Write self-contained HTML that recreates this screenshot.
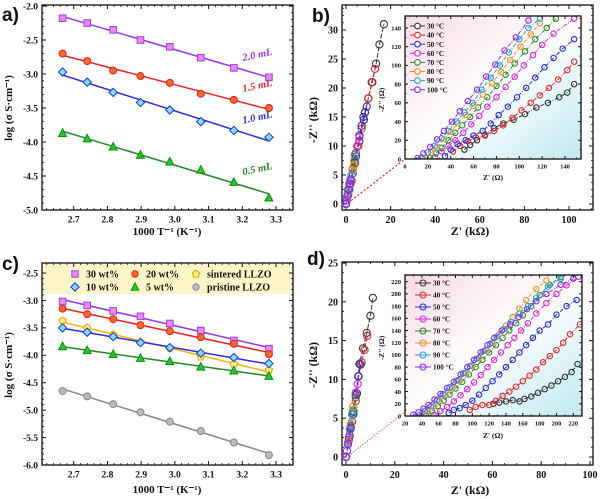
<!DOCTYPE html>
<html><head><meta charset="utf-8"><style>
html,body{margin:0;padding:0;background:#fff;}
svg{display:block;font-family:"Liberation Serif",serif;font-weight:bold;}
</style></head><body>
<svg id="fig" width="600" height="499" viewBox="0 0 600 499">
<defs>
<linearGradient id="ig" x1="0" y1="0" x2="1" y2="1">
<stop offset="0" stop-color="#f6dbe6"/><stop offset="0.5" stop-color="#ffffff"/><stop offset="1" stop-color="#bfeaf0"/>
</linearGradient>
</defs>
</svg>
<script>
// ---------- data ----------
const xT = [2.667, 2.740, 2.817, 2.898, 2.985, 3.077, 3.175, 3.279];
const aLabels = ["2.0 mL","1.5 mL","1.0 mL","0.5 mL"];
const a20 = [-2.18,-2.25,-2.35,-2.50,-2.60,-2.76,-2.91,-3.05];
const a15 = [-2.70,-2.81,-2.95,-3.03,-3.13,-3.29,-3.38,-3.50];
const a10 = [-2.97,-3.12,-3.27,-3.42,-3.53,-3.70,-3.83,-3.93];
const a05 = [-3.87,-3.95,-4.07,-4.19,-4.29,-4.41,-4.59,-4.82];
const cLabels = ["30 wt%","20 wt%","sintered LLZO","10 wt%","5 wt%","pristine LLZO"];
const c30 = [-3.02,-3.09,-3.19,-3.29,-3.42,-3.55,-3.73,-3.88];
const c20 = [-3.15,-3.25,-3.34,-3.45,-3.56,-3.67,-3.79,-3.98];
const cSint = [-3.37,-3.50,-3.62,-3.76,-3.87,-4.03,-4.16,-4.27];
const c10 = [-3.50,-3.58,-3.66,-3.77,-3.86,-3.96,-4.04,-4.15];
const c05 = [-3.84,-3.91,-3.98,-4.05,-4.11,-4.21,-4.28,-4.38];
const cPri = [-4.65,-4.75,-4.89,-5.04,-5.21,-5.38,-5.59,-5.82];
const tempLabels = ["30 °C","40 °C","50 °C","60 °C","70 °C","80 °C","90 °C","100 °C"];
const tempColors = ["#333333","#e8262a","#2a2ad8","#e020e0","#2a8a2a","#f39020","#20a0e8","#8a2be8"];
// panel b main (kΩ)
const bMain = [
 [[0,0],[2,3.5],[4,7.2],[6,10.8],[8,14.5],[10,18.2],[11.8,21],[13.5,24.2],[15,27.5],[17,31]],
 [[0,0],[1,1.5],[2.5,4],[4,7],[5.5,10],[7,13],[8.5,15.8],[10,18.2],[11.5,21],[13,23.3]],
 [[0,0],[1.5,2.5],[3,5.3],[4.5,8.2],[6,11.8],[7,13.5],[7.8,15],[8.5,15.8],[9.3,16.8]],
 [[0,0],[1,2],[2,4],[3,6],[4,8.5],[5,10],[6,11.5]],
 [[0,0],[1,2],[2,4.2],[3,6],[3.8,7.5],[4.5,8.8]],
 [[0,0],[1,2],[2,4.2],[3,5.8],[3.5,6.6]],
 [[0,0],[0.8,1.8],[1.6,3.4],[2.5,5]],
 [[0,0],[0.3,0.6],[0.6,1.3],[1,2.5],[1.5,3.5],[2,4.2]]
];
// panel b inset (Ω)
const bInset = [
 [[52,10],[57,15],[63,20],[70,26],[78,33],[86,38],[95,42],[105,48],[115,55],[125,60],[135,66],[142,71],[148,80]],
 [[42,8],[48,14],[55,19],[62,23],[70,25],[78,30],[86,36],[94,44],[102,52],[110,60],[118,68],[126,76],[134,85],[142,95],[148,104]],
 [[35,3],[40,10],[46,16],[53,20],[60,25],[68,30],[75,38],[82,47],[90,56],[98,66],[106,76],[114,87],[122,98],[130,108],[138,118],[148,128]],
 [[26,2],[32,8],[38,14],[44,20],[51,28],[58,37],[65,46],[72,56],[80,66],[88,77],[96,88],[104,100],[112,111],[120,122],[130,134],[148,150]],
 [[22,1],[27,6],[32,12],[38,20],[44,28],[50,36],[57,45],[64,55],[72,66],[80,78],[88,90],[96,102],[105,115],[114,128],[124,140],[132,150]],
 [[18,1],[23,7],[28,13],[34,21],[40,29],[46,38],[53,47],[60,57],[68,69],[76,81],[84,93],[92,106],[101,120],[110,133],[118,145]],
 [[15,1],[20,7],[26,14],[32,22],[38,30],[45,40],[52,50],[59,60],[67,74],[75,87],[83,100],[91,114],[100,128],[108,140],[118,150]],
 [[11,1],[16,6],[22,13],[28,21],[34,30],[41,40],[48,51],[55,62],[63,74],[71,88],[79,101],[87,116],[97,130],[108,148]]
];
// panel d main (kΩ)
const dMain = [
 [[0,0],[1.5,2.8],[3,5.5],[4.5,8.2],[5.5,12],[7,14],[8.5,16],[10,18.2],[11,20.5]],
 [[0,0],[1.2,2.2],[2.5,4.5],[4,7.2],[5.2,10.4],[6.4,12.2],[7.6,13.8],[8.7,15.6]],
 [[0,0],[1,2],[2,3.8],[3,5.8],[4,8],[5,10.4],[6,11.9]],
 [[0,0],[1,2],[2,4],[3,6.5],[4,8.3],[4.8,9.4]],
 [[0,0],[1,2],[2,4],[3,6],[4,7.7]],
 [[0,0],[1,2],[2,4.2],[3,6.5]],
 [[0,0],[0.8,1.8],[1.6,3.5],[2.5,5.5]],
 [[0,0],[0.4,0.8],[0.8,1.6],[1.2,2.5],[1.8,3.6]]
];
// panel d inset (Ω)
const dInset = [
 [[125,20],[132,22],[140,24],[148,26],[156,24],[162,28],[170,32],[178,38],[186,44],[194,50],[202,57],[210,64],[218,72],[225,85]],
 [[97,10],[104,15],[112,18],[120,18],[128,25],[136,33],[144,40],[152,48],[160,57],[168,66],[176,76],[184,88],[192,98],[200,108],[208,120],[216,134],[228,150]],
 [[72,5],[78,10],[85,13],[92,18],[100,25],[108,35],[116,46],[124,57],[132,68],[140,80],[148,92],[156,104],[164,116],[172,128],[180,140],[190,150],[200,166],[212,180],[224,190]],
 [[55,2],[62,8],[70,15],[78,24],[86,34],[94,44],[102,55],[110,67],[118,80],[126,92],[134,104],[142,116],[150,128],[158,140],[166,152],[176,168],[188,185],[200,200],[212,214],[226,228]],
 [[45,1],[52,8],[59,16],[66,25],[73,35],[80,45],[88,56],[96,68],[104,80],[112,92],[120,104],[128,116],[136,128],[144,140],[152,152],[160,165],[170,180],[180,198],[192,215],[205,228]],
 [[40,1],[47,8],[54,16],[61,25],[68,35],[76,46],[84,58],[92,70],[100,82],[108,95],[116,108],[124,120],[132,134],[140,148],[148,162],[156,176],[164,190],[176,208],[188,222]],
 [[37,1],[44,8],[51,16],[58,26],[65,36],[73,47],[81,58],[89,70],[97,82],[105,94],[113,106],[121,118],[129,130],[137,142],[146,154],[156,168],[166,180],[176,194],[190,212],[205,225]],
 [[30,2],[36,6],[42,12],[48,18],[55,27],[62,36],[70,46],[78,56],[86,68],[94,80],[102,92],[110,104],[118,116],[126,128],[135,140],[145,150],[155,162],[165,175],[176,188],[188,200],[205,215],[220,225]]
];
const aTicksX = [2.6,2.7,2.8,2.9,3.0,3.1,3.2,3.3];
const aTicksY = [-2.0,-2.5,-3.0,-3.5,-4.0,-4.5,-5.0];
const cTicksY = [-2.5,-3.0,-3.5,-4.0,-4.5,-5.0,-5.5,-6.0];
const bTicksX = [0,20,40,60,80,100];
const bTicksY = [0,5,10,15,20,25,30];
const dTicksY = [0,5,10,15,20,25];
const biTicks = [0,20,40,60,80,100,120,140];
const diTicksX = [20,40,60,80,100,120,140,160,180,200,220];
const diTicksY = [0,20,40,60,80,100,120,140,160,180,200,220];

// ---------- helpers ----------
const NS="http://www.w3.org/2000/svg";
const svg=document.getElementById('fig');
function mk(tag,attrs,parent){const e=document.createElementNS(NS,tag);for(const k in attrs)e.setAttribute(k,attrs[k]);(parent||svg).appendChild(e);return e;}
function txt(s,x,y,size,anchor,parent,extra){const t=mk('text',Object.assign({x:x,y:y,'font-size':size,'text-anchor':anchor||'middle',fill:'#111'},extra||{}),parent);t.textContent=s;return t;}
function scale(d0,d1,p0,p1){return v=>p0+(v-d0)*(p1-p0)/(d1-d0);}
function axes(name,f,X,Y,xt,yt,xfmt,yfmt,fs,tl,nminor,noYlabelsTop){
  const g=mk('g',{});
  
  
  mk('rect',{x:f.x0,y:f.y0,width:f.x1-f.x0,height:f.y1-f.y0,fill:'none',stroke:'#111','stroke-width':1.3},g);
  const step=xt[1]-xt[0], ys=yt[1]-yt[0];
  for(let i=0;i<xt.length;i++){
    const px=X(xt[i]);
    if(px>=f.x0-0.5&&px<=f.x1+0.5){
      mk('line',{x1:px,x2:px,y1:f.y1,y2:f.y1-tl,stroke:'#111','stroke-width':1},g);
      mk('line',{x1:px,x2:px,y1:f.y0,y2:f.y0+tl,stroke:'#111','stroke-width':1},g);
      txt(xfmt(xt[i]),px,f.y1+fs+3,fs,'middle',g);
    }
    for(let k=1;k<nminor;k++){const m=X(xt[i]+step*k/nminor);if(m>f.x0&&m<f.x1){mk('line',{x1:m,x2:m,y1:f.y1,y2:f.y1-tl/2,stroke:'#111','stroke-width':0.8},g);mk('line',{x1:m,x2:m,y1:f.y0,y2:f.y0+tl/2,stroke:'#111','stroke-width':0.8},g);}}
  }
  for(let i=0;i<yt.length;i++){
    const py=Y(yt[i]);
    if(py>=f.y0-0.5&&py<=f.y1+0.5){
      mk('line',{x1:f.x0,x2:f.x0+tl,y1:py,y2:py,stroke:'#111','stroke-width':1},g);
      mk('line',{x1:f.x1,x2:f.x1-tl,y1:py,y2:py,stroke:'#111','stroke-width':1},g);
      txt(yfmt(yt[i]),f.x0-4,py+fs*0.35,fs,'end',g);
    }
    for(let k=1;k<nminor;k++){const m=Y(yt[i]+ys*k/nminor);if(m>f.y0&&m<f.y1){mk('line',{x1:f.x0,x2:f.x0+tl/2,y1:m,y2:m,stroke:'#111','stroke-width':0.8},g);mk('line',{x1:f.x1,x2:f.x1-tl/2,y1:m,y2:m,stroke:'#111','stroke-width':0.8},g);}}
  }
  return g;
}
function marker(shape,cx,cy,s,fill,stroke,parent){
  let e;
  if(shape==='sq') e=mk('rect',{x:cx-s,y:cy-s,width:2*s,height:2*s},parent);
  else if(shape==='ci') e=mk('circle',{cx:cx,cy:cy,r:s},parent);
  else if(shape==='di') e=mk('polygon',{points:`${cx},${cy-s*1.3} ${cx+s*1.3},${cy} ${cx},${cy+s*1.3} ${cx-s*1.3},${cy}`},parent);
  else if(shape==='tr') e=mk('polygon',{points:`${cx},${cy-s*1.3} ${cx+s*1.2},${cy+s} ${cx-s*1.2},${cy+s}`},parent);
  else if(shape==='pe'){let p=[];for(let i=0;i<5;i++){const a=-Math.PI/2+i*2*Math.PI/5;p.push((cx+s*1.2*Math.cos(a))+','+(cy+s*1.2*Math.sin(a)));}e=mk('polygon',{points:p.join(' ')},parent);}
  e.setAttribute('fill',fill);e.setAttribute('stroke',stroke);e.setAttribute('stroke-width',1);
  return e;
}
function fit(xs,ys){const n=xs.length;let sx=0,sy=0,sxx=0,sxy=0;for(let i=0;i<n;i++){sx+=xs[i];sy+=ys[i];sxx+=xs[i]*xs[i];sxy+=xs[i]*ys[i];}const m=(n*sxy-sx*sy)/(n*sxx-sx*sx);return [m,(sy-m*sx)/n];}
function arrSeries(name,X,Y,ys,shape,fill,stroke,line,s){
  const g=mk('g',{});
  
  
  const [m,b]=fit(xT,ys);
  mk('line',{x1:X(xT[0]),y1:Y(m*xT[0]+b),x2:X(xT[xT.length-1]),y2:Y(m*xT[xT.length-1]+b),stroke:line,'stroke-width':1.5},g);
  ys.forEach((v,i)=>{const e=marker(shape,X(xT[i]),Y(v),s,fill,stroke,g);});
  return g;
}
function nyq(name,X,Y,pts,color,r,dash,parent){
  const g=mk('g',{},parent);
  
  
  mk('polyline',{points:pts.map(p=>X(p[0])+','+Y(p[1])).join(' '),fill:'none',stroke:color,'stroke-width':1,'stroke-dasharray':dash},g);
  pts.forEach(p=>{const c=mk('circle',{cx:X(p[0]),cy:Y(p[1]),r:r,fill:'none',stroke:color,'stroke-width':1.1},g);});
}
function label(s,x,y,name,size,extra){const t=txt(s,x,y,size||19,'start',svg,Object.assign({'font-family':'Liberation Sans, sans-serif'},extra||{}));return t;}
function rotTitle(s,x,y,name,size){const t=txt(s,x,y,size,'middle',svg,{transform:`rotate(-90 ${x} ${y})`});return t;}
function hTitle(s,x,y,name,size){const t=txt(s,x,y,size,'middle');return t;}
const f1=v=>v.toFixed(1), f0=v=>String(v);

// ---------- panel a ----------
const fa={x0:42,x1:293,y0:5,y1:210};
const Xa=scale(2.6,3.3,40,276), Ya=scale(-2.0,-5.0,6,210);
axes('panel-a',fa,Xa,Ya,aTicksX,aTicksY,f1,f1,9.5,4,5);
arrSeries('series-2.0ml',Xa,Ya,a20,'sq','#e48af0','#a040e0','#9933ff',3.3);
arrSeries('series-1.5ml',Xa,Ya,a15,'ci','#ff6a2a','#e02020','#ee2222',3.5);
arrSeries('series-1.0ml',Xa,Ya,a10,'di','#7fe0ff','#2030e0','#2a2ae0',3.2);
arrSeries('series-0.5ml',Xa,Ya,a05,'tr','#22cc22','#118811','#228822',3.3);
[[aLabels[0],a20,'#9933ff',-10],[aLabels[1],a15,'#ee2222',-11],[aLabels[2],a10,'#2a2ae0',-10],[aLabels[3],a05,'#228822',-10]].forEach((o,i)=>{
  const t=txt(o[0],258,Ya(o[1][6])+o[3],10.5,'middle',svg,{fill:o[2],'font-style':'italic',transform:`rotate(-12 258 ${Ya(o[1][6])+o[3]})`});
  
});
label('a)',2,21,'panel-a-label');
rotTitle('log (σ S·cm⁻¹)',12,108,'y-axis-title-a',11);
hTitle('1000 T⁻¹ (K⁻¹)',167,235,'x-axis-title-a',11);

// ---------- panel c ----------
const fc={x0:42,x1:293,y0:263,y1:465};
const Xc=scale(2.6,3.3,40,276), Yc=scale(-2.5,-6.0,273,465);
const lg=mk('rect',{x:43,y:264,width:249,height:30,fill:'#fcf5c8'});

axes('panel-c',fc,Xc,Yc,aTicksX,cTicksY,f1,f1,9.5,4,5);
arrSeries('series-30wt',Xc,Yc,c30,'sq','#e48af0','#a040e0','#9933ff',3.3);
arrSeries('series-20wt',Xc,Yc,c20,'ci','#ff6a2a','#e02020','#ee2222',3.5);
arrSeries('series-sintered',Xc,Yc,cSint,'pe','#fff080','#f0a000','#f5b400',3.2);
arrSeries('series-10wt',Xc,Yc,c10,'di','#7fe0ff','#2030e0','#2a2ae0',3.2);
arrSeries('series-5wt',Xc,Yc,c05,'tr','#22cc22','#118811','#228822',3.3);
arrSeries('series-pristine',Xc,Yc,cPri,'ci','#bbbbbb','#888888','#888888',3.5);
const lgItems=[['sq','#e48af0','#a040e0',75,274],['ci','#ff6a2a','#e02020',135,274],['pe','#fff080','#f0a000',196,274],['di','#7fe0ff','#2030e0',75,287],['tr','#22cc22','#118811',135,287],['ci','#bbbbbb','#888888',196,287]];
lgItems.forEach((o,i)=>{const g=mk('g',{});marker(o[0],o[3],o[4],3.2,o[1],o[2],g);txt(cLabels[i],o[3]+11,o[4]+3.5,10,'start',g);});
label('c)',2,270,'panel-c-label');
rotTitle('log (σ S·cm⁻¹)',12,365,'y-axis-title-c',11);
hTitle('1000 T⁻¹ (K⁻¹)',167,493,'x-axis-title-c',11);

// ---------- panel b ----------
const fb={x0:342,x1:593,y0:5,y1:210};
const Xb=scale(0,100,346,569), Yb=scale(0,30,204,30);
axes('panel-b',fb,Xb,Yb,bTicksX,bTicksY,f0,f0,10,4,4);
const ib={x0:405,x1:581,y0:16,y1:159};
const Xbi=scale(0,140,405,565), Ybi=scale(0,140,159,28);
const rb=mk('rect',{x:ib.x0,y:ib.y0,width:ib.x1-ib.x0,height:ib.y1-ib.y0,fill:'url(#ig)'});

mk('line',{x1:Xb(0)+2,y1:Yb(0)-1,x2:ib.x0,y2:ib.y1,stroke:'#e82020','stroke-width':1.2,'stroke-dasharray':'2,2'});
mk('rect',{x:Xb(0)-3,y:Yb(0)-4,width:6,height:6,fill:'none',stroke:'#e82020','stroke-width':0.8,'stroke-dasharray':'1.5,1.5'});
for(let i=0;i<8;i++) nyq('main-b-'+tempLabels[i].replace(' °C','c'),Xb,Yb,bMain[i],tempColors[i],3.6,'5,1.5');
const cpB=mk('clipPath',{id:'cpb'});mk('rect',{x:ib.x0,y:ib.y0,width:ib.x1-ib.x0,height:ib.y1-ib.y0},cpB);
const gb=mk('g',{'clip-path':'url(#cpb)'});
for(let i=0;i<8;i++) nyq('inset-b-'+tempLabels[i].replace(' °C','c'),Xbi,Ybi,bInset[i],tempColors[i],2.7,'4,1.5,1,1.5',gb);
axes('inset-b',ib,Xbi,Ybi,biTicks,biTicks,f0,f0,6.5,3,2);
for(let i=0;i<8;i++){const y=26+i*9.1;const g=mk('g',{});mk('line',{x1:410,x2:425,y1:y,y2:y,stroke:tempColors[i],'stroke-width':1},g);mk('circle',{cx:417.5,cy:y,r:2.8,fill:'#fff',stroke:tempColors[i],'stroke-width':1.1},g);txt(tempLabels[i],427,y+2.6,7.2,'start',g);}
rotTitle("-Z'' (Ω)",384,100,'inset-b-y-title',7.5);
hTitle("Z' (Ω)",493,180,'inset-b-x-title',7.5);
label('b)',312,22,'panel-b-label');
rotTitle("-Z'' (kΩ)",317,120,'y-axis-title-b',12);
hTitle("Z' (kΩ)",470,235,'x-axis-title-b',12);

// ---------- panel d ----------
const fd={x0:342,x1:593,y0:262,y1:465};
const Xd=scale(0,100,346,590), Yd=scale(0,25,457,263);
axes('panel-d',fd,Xd,Yd,bTicksX,dTicksY,f0,f0,10,4,4);
const idd={x0:405,x1:582,y0:275,y1:416};
const Xdi=scale(20,220,405,573.3), Ydi=scale(0,220,416,281.7);
const rd=mk('rect',{x:idd.x0,y:idd.y0,width:idd.x1-idd.x0,height:idd.y1-idd.y0,fill:'url(#ig)'});

mk('line',{x1:Xd(0)+2,y1:Yd(0)-1,x2:idd.x0,y2:idd.y1-4,stroke:'#f06060','stroke-width':1,'stroke-dasharray':'1.5,1.5'});
mk('rect',{x:Xd(0)-3,y:Yd(0)-4,width:6,height:6,fill:'none',stroke:'#e82020','stroke-width':0.8,'stroke-dasharray':'1.5,1.5'});
for(let i=0;i<8;i++) nyq('main-d-'+tempLabels[i].replace(' °C','c'),Xd,Yd,dMain[i],tempColors[i],3.6,'5,1.5');
const cpD=mk('clipPath',{id:'cpd'});mk('rect',{x:idd.x0,y:idd.y0,width:idd.x1-idd.x0,height:idd.y1-idd.y0},cpD);
const gd=mk('g',{'clip-path':'url(#cpd)'});
for(let i=0;i<8;i++) nyq('inset-d-'+tempLabels[i].replace(' °C','c'),Xdi,Ydi,dInset[i],tempColors[i],2.7,'4,1.5,1,1.5',gd);
axes('inset-d',idd,Xdi,Ydi,diTicksX,diTicksY,f0,f0,6.5,3,2);
for(let i=0;i<8;i++){const y=283+i*12;const g=mk('g',{});mk('line',{x1:415,x2:431,y1:y,y2:y,stroke:tempColors[i],'stroke-width':1},g);mk('circle',{cx:423,cy:y,r:3,fill:'none',stroke:tempColors[i],'stroke-width':1.1},g);txt(tempLabels[i],433,y+2.6,7.2,'start',g);}
rotTitle("-Z'' (Ω)",384,348,'inset-d-y-title',7.5);
hTitle("Z' (Ω)",493,438,'inset-d-x-title',7.5);
label('d)',307,265,'panel-d-label');
rotTitle("-Z'' (kΩ)",317,365,'y-axis-title-d',12);
hTitle("Z' (kΩ)",470,494,'x-axis-title-d',12);
</script>
</body></html>
